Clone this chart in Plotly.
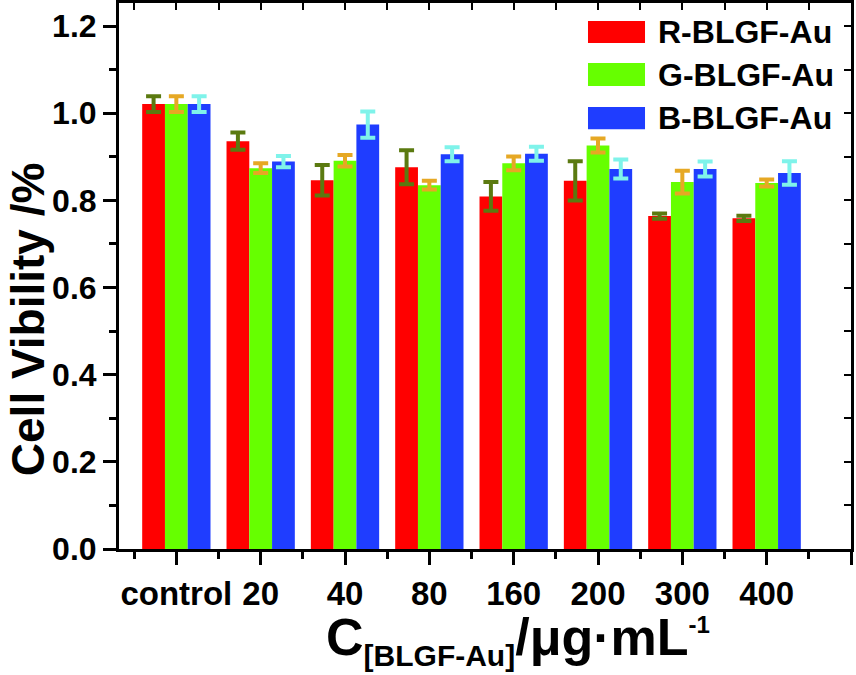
import plotly.graph_objects as go

categories = ["control", "20", "40", "80", "160", "200", "300", "400"]
series_names = ["R-BLGF-Au", "G-BLGF-Au", "B-BLGF-Au"]
r_values = [1.021, 0.936, 0.846, 0.876, 0.809, 0.845, 0.764, 0.759]
r_errors = [0.018, 0.020, 0.035, 0.039, 0.033, 0.045, 0.006, 0.006]
g_values = [1.021, 0.874, 0.891, 0.835, 0.885, 0.926, 0.842, 0.840]
g_errors = [0.018, 0.011, 0.013, 0.010, 0.016, 0.016, 0.026, 0.008]
b_values = [1.021, 0.889, 0.974, 0.906, 0.907, 0.872, 0.872, 0.863]
b_errors = [0.018, 0.013, 0.030, 0.016, 0.016, 0.022, 0.017, 0.027]
y_ticks = [0.0, 0.2, 0.4, 0.6, 0.8, 1.0, 1.2]

bar_colors = ["#ff0000", "#66ff00", "#1f3dff"]
err_colors = ["#5b7a10", "#e6a824", "#7ff3ea"]

FONT = "Liberation Sans, Arial, sans-serif"
x_pos = list(range(len(categories)))

fig = go.Figure()
for name, vals, errs, bc, ec in zip(series_names, [r_values, g_values, b_values],
                                    [r_errors, g_errors, b_errors], bar_colors, err_colors):
    fig.add_trace(go.Bar(
        x=x_pos, y=vals, name=name,
        marker=dict(color=bc, line=dict(width=0)),
        error_y=dict(type="data", array=errs, visible=True, color=ec, thickness=4, width=7.5),
        showlegend=False,
    ))

tickvals = x_pos + [len(categories)]
ticktext = categories + [""]
x_range = [-0.68, len(categories)]
y_range = [0, 1.253]

fig.update_layout(
    width=856, height=675,
    margin=dict(l=119, r=5, t=3, b=126, autoexpand=False),
    paper_bgcolor="white", plot_bgcolor="white",
    barmode="group", bargap=0.19, bargroupgap=0,
    font=dict(family=FONT, color="black", weight="bold"),
    xaxis=dict(
        range=x_range, tickmode="array", tickvals=tickvals, ticktext=ticktext,
        automargin=False,
        showgrid=False, zeroline=False,
        showline=True, linecolor="black", linewidth=3, mirror=True,
        ticks="outside", ticklen=13, tickwidth=3, tickcolor="black",
        tickfont=dict(size=33, family=FONT, weight="bold"),
        ticklabelstandoff=0,
        minor=dict(tickmode="linear", tick0=0.5, dtick=1, ticks="outside",
                   ticklen=7, tickwidth=3, tickcolor="black"),
    ),
    yaxis=dict(
        range=y_range, tickmode="array", tickvals=y_ticks,
        ticktext=[f"{v:.1f}" for v in y_ticks],
        automargin=False,
        showgrid=False, zeroline=False,
        showline=True, linecolor="black", linewidth=3, mirror=True,
        ticks="outside", ticklen=13, tickwidth=3, tickcolor="black",
        tickfont=dict(size=32, family=FONT, weight="bold"),
        minor=dict(tickmode="linear", tick0=0.1, dtick=0.2, ticks="outside",
                   ticklen=7, tickwidth=3, tickcolor="black"),
    ),
    xaxis2=dict(
        range=x_range, overlaying="x", side="top", anchor="y",
        automargin=False,
        tickmode="array", tickvals=tickvals, showticklabels=False,
        showgrid=False, zeroline=False, showline=False,
        ticks="inside", ticklen=7, tickwidth=2, tickcolor="black",
        minor=dict(tickmode="linear", tick0=0.5, dtick=1, ticks="inside",
                   ticklen=7, tickwidth=2, tickcolor="black"),
    ),
    yaxis2=dict(
        range=y_range, overlaying="y", side="right", anchor="x",
        automargin=False,
        tickmode="array", tickvals=y_ticks, showticklabels=False,
        showgrid=False, zeroline=False, showline=False,
        ticks="inside", ticklen=7, tickwidth=2, tickcolor="black",
        minor=dict(tickmode="linear", tick0=0.1, dtick=0.2, ticks="inside",
                   ticklen=7, tickwidth=2, tickcolor="black"),
    ),
)

# invisible helper trace so the mirrored tick axes get drawn
fig.add_trace(go.Scatter(x=[x_range[0]], y=[y_range[0]], xaxis="x2", yaxis="y2",
                         mode="markers", marker=dict(opacity=0), showlegend=False,
                         hoverinfo="skip"))

# custom legend (paper coordinates)
leg_rows = [(0.9267, 0.967, 0.947), (0.848, 0.890, 0.869), (0.769, 0.8095, 0.789)]
for (y0, y1, yc), name, bc in zip(leg_rows, series_names, bar_colors):
    fig.add_shape(type="rect", xref="paper", yref="paper", x0=0.6407, x1=0.7186,
                  y0=y0, y1=y1, fillcolor=bc, line=dict(width=0))
    fig.add_annotation(xref="paper", yref="paper", x=0.734, y=yc, text=name,
                       showarrow=False, xanchor="left", yanchor="middle",
                       font=dict(size=32, family=FONT, weight="bold", color="black"))

# axis titles
fig.add_annotation(xref="paper", yref="paper", x=-0.125, y=0.42,
                   text="Cell Vibility /%", textangle=-90, showarrow=False,
                   xanchor="center", yanchor="middle",
                   font=dict(size=46, family=FONT, weight="bold", color="black"))
fig.add_annotation(xref="paper", yref="paper", x=0.545, y=-0.166,
                   text="C<sub><span style='font-size:30px'>[BLGF-Au]</span></sub>/μg·mL<sup><span style='font-size:24px'>-1</span></sup>",
                   showarrow=False, xanchor="center", yanchor="middle",
                   font=dict(size=52, family=FONT, weight="bold", color="black"))

fig.write_html("out.html", config={"displayModeBar": False},
               post_script="document.body.style.margin='0px';document.body.style.overflow='hidden';")
